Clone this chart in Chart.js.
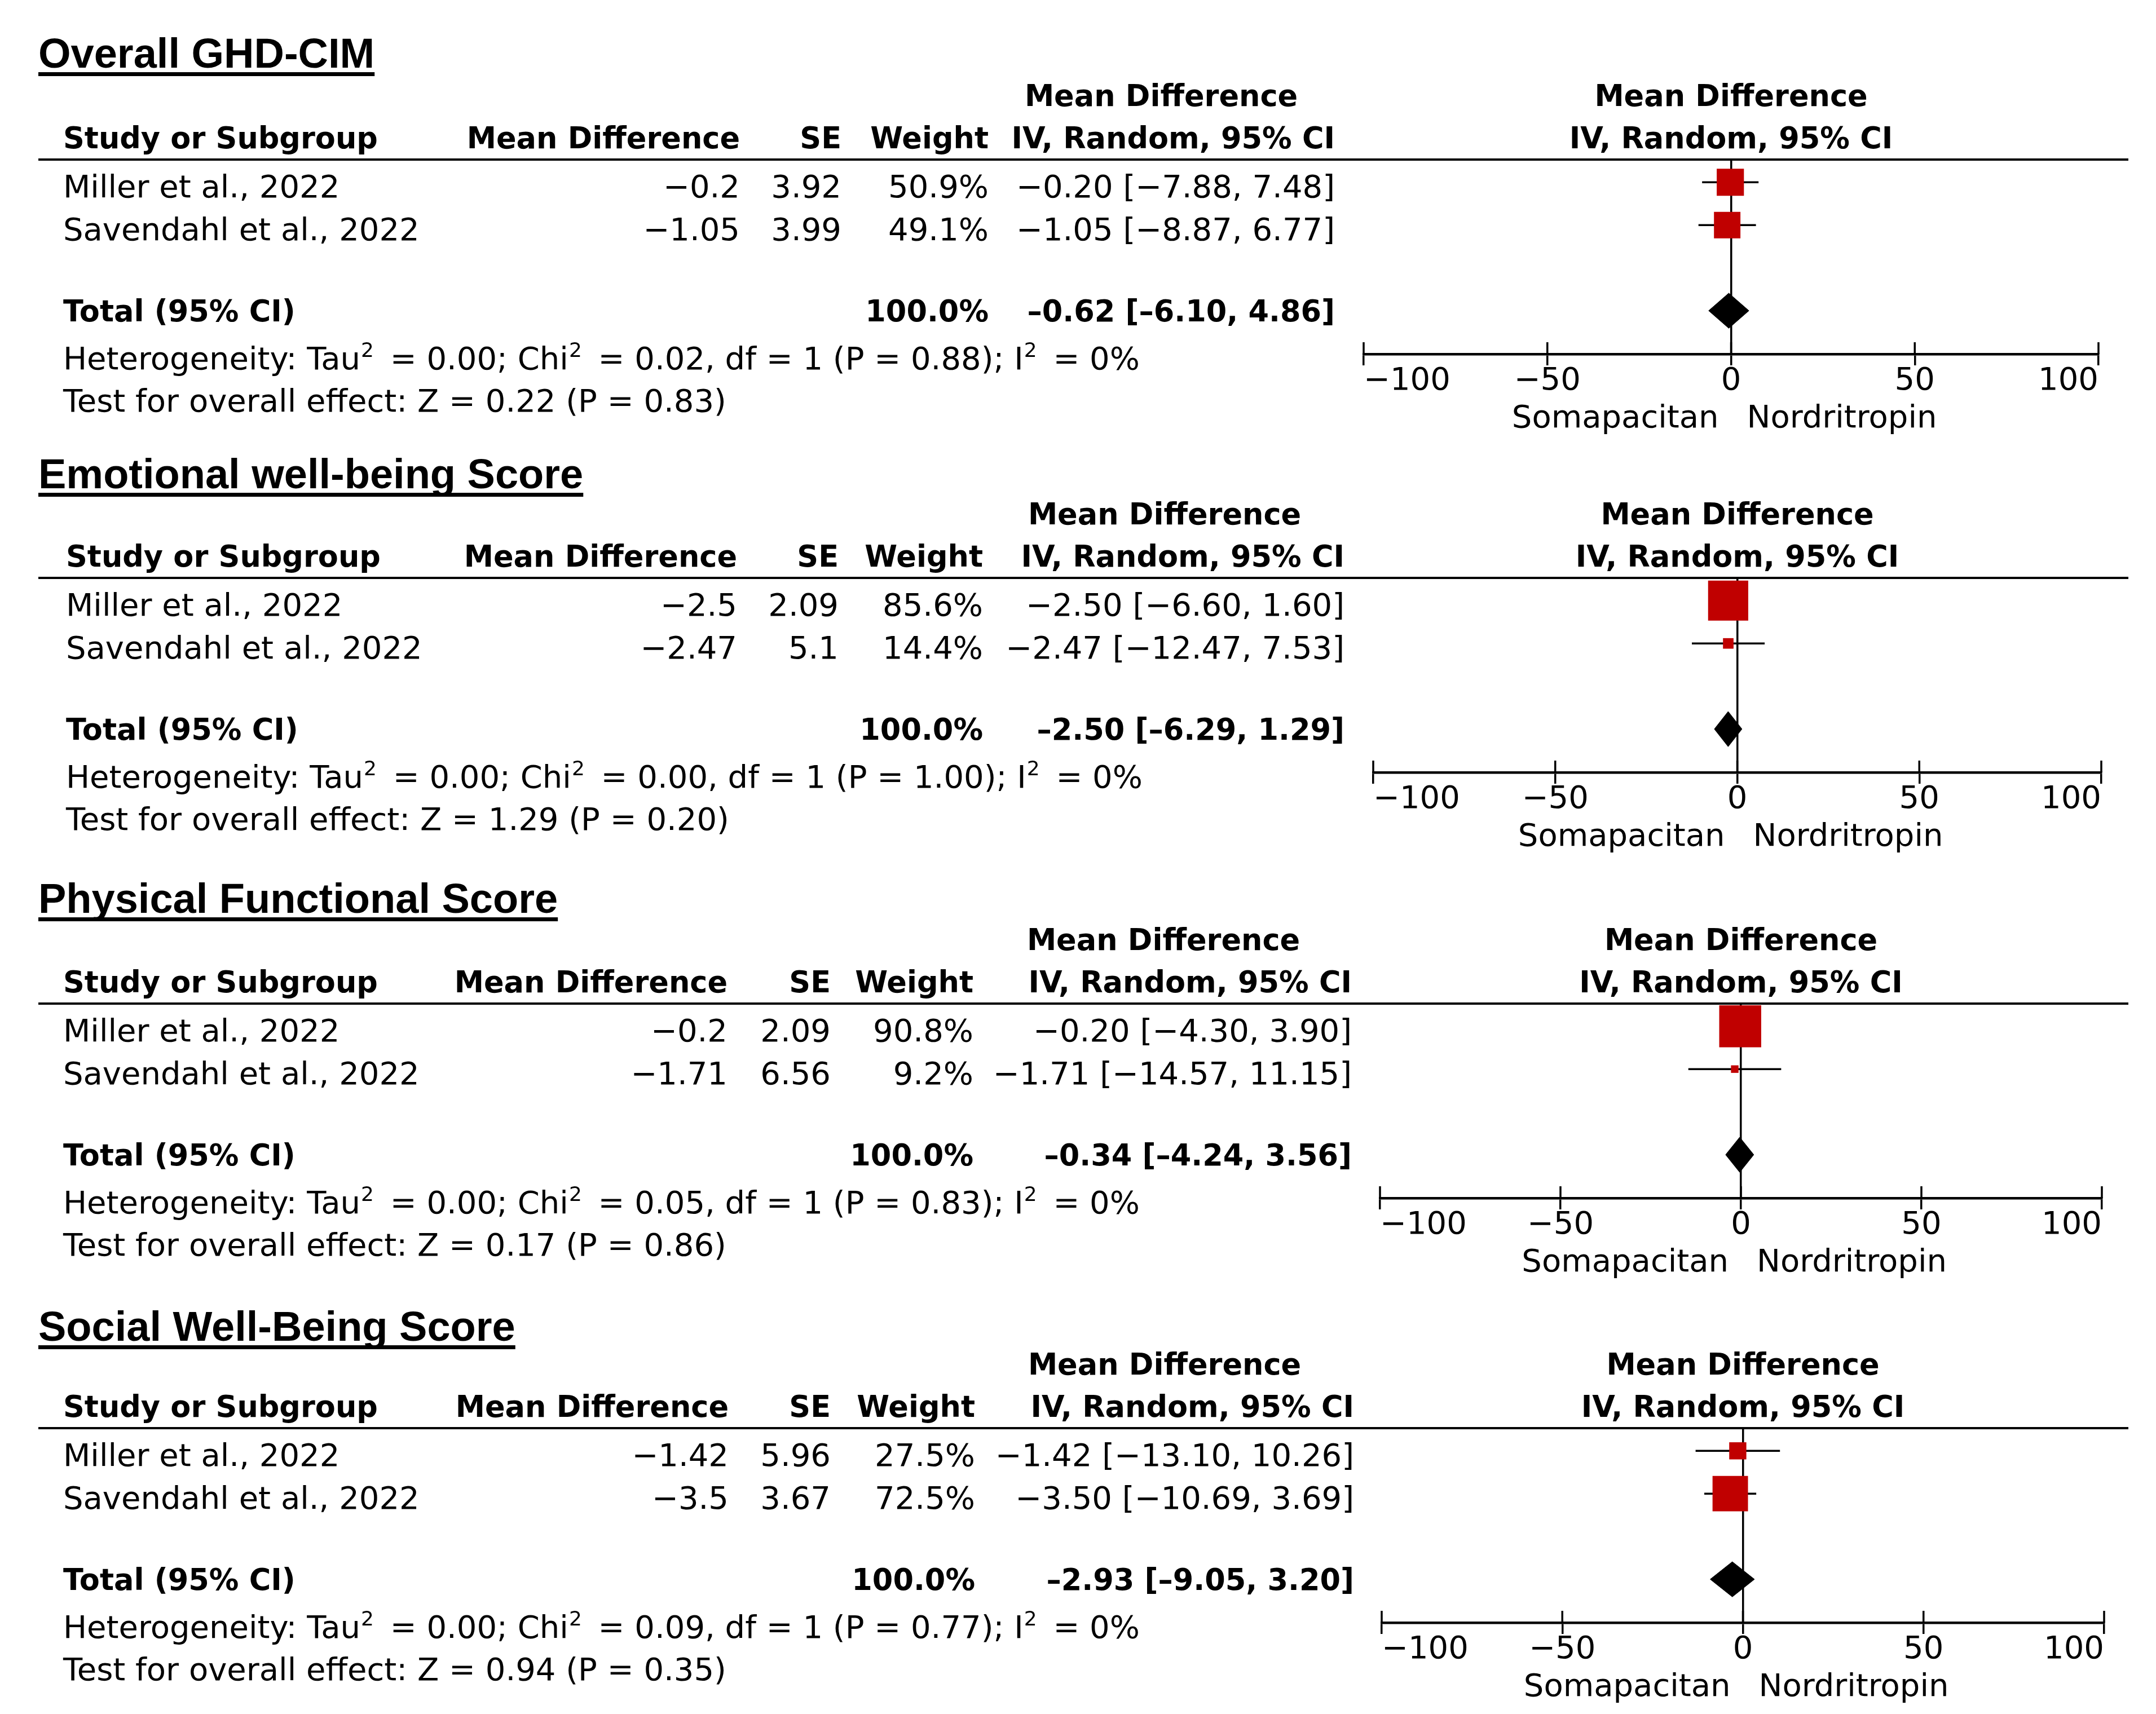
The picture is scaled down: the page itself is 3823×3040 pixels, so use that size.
<!DOCTYPE html>
<html>
<head>
<meta charset="utf-8">
<script src="https://cdn.jsdelivr.net/npm/chart.js@4/dist/chart.umd.min.js"></script>
<style>
  html, body { margin: 0; padding: 0; background: #ffffff; }
  body { width: 3823px; height: 3040px; position: relative; overflow: hidden; }
  .panel { position: absolute; left: 0; width: 3823px; height: 790px; }
  .panel canvas { display: block; }
</style>
</head>
<body>
<div class="panel" id="p0"><canvas id="c0" width="3823" height="790"></canvas></div>
<div class="panel" id="p1"><canvas id="c1" width="3823" height="790"></canvas></div>
<div class="panel" id="p2"><canvas id="c2" width="3823" height="790"></canvas></div>
<div class="panel" id="p3"><canvas id="c3" width="3823" height="790"></canvas></div>
<script>
// ---------------- DATA ----------------
const panelTitles = ["Overall GHD-CIM", "Emotional well-being Score", "Physical Functional Score", "Social Well-Being Score"];
const studies = ["Miller et al., 2022", "Savendahl et al., 2022"];
const meanDiff = [[-0.2, -1.05], [-2.5, -2.47], [-0.2, -1.71], [-1.42, -3.5]];
const seValues = [[3.92, 3.99], [2.09, 5.1], [2.09, 6.56], [5.96, 3.67]];
const weights = [[50.9, 49.1], [85.6, 14.4], [90.8, 9.2], [27.5, 72.5]];
const ciLower = [[-7.88, -8.87], [-6.60, -12.47], [-4.30, -14.57], [-13.10, -10.69]];
const ciUpper = [[7.48, 6.77], [1.60, 7.53], [3.90, 11.15], [10.26, 3.69]];
const totalMD = [-0.62, -2.50, -0.34, -2.93];
const totalLower = [-6.10, -6.29, -4.24, -9.05];
const totalUpper = [4.86, 1.29, 3.56, 3.20];
const heterogeneityText = [
  "Heterogeneity: Tau\u00B2 = 0.00; Chi\u00B2 = 0.02, df = 1 (P = 0.88); I\u00B2 = 0%",
  "Heterogeneity: Tau\u00B2 = 0.00; Chi\u00B2 = 0.00, df = 1 (P = 1.00); I\u00B2 = 0%",
  "Heterogeneity: Tau\u00B2 = 0.00; Chi\u00B2 = 0.05, df = 1 (P = 0.83); I\u00B2 = 0%",
  "Heterogeneity: Tau\u00B2 = 0.00; Chi\u00B2 = 0.09, df = 1 (P = 0.77); I\u00B2 = 0%"
];
const overallEffectText = [
  "Test for overall effect: Z = 0.22 (P = 0.83)",
  "Test for overall effect: Z = 1.29 (P = 0.20)",
  "Test for overall effect: Z = 0.17 (P = 0.86)",
  "Test for overall effect: Z = 0.94 (P = 0.35)"
];
const xTickValues = [-100, -50, 0, 50, 100];
const favoursLeft = "Somapacitan";
const favoursRight = "Nordritropin";
const totalLabel = "Total (95% CI)";
const colHeaders = ["Study or Subgroup", "Mean Difference", "SE", "Weight", "IV, Random, 95% CI"];
const upperHeader = "Mean Difference";

// ---------------- LAYOUT (positions / styles only) ----------------
const W = 3823, H = 790;
const HEADER_Y = 283, AXIS_Y = 628, AXIS_H = 130;
const Y_MIN = -0.53, Y_MAX = 4.013;
const STUDY_ROWS = [0, 1];
const TOTAL_ROW = 3;
const DIAMOND_H = 0.41;
const RED = "#c00000";
const FONT = '"DejaVu Sans", Verdana, sans-serif';
const REG_SIZE = 56;
const REG = REG_SIZE + "px " + FONT;
const SUP = "36px " + FONT;
const BOLD = "bold 52.5px " + FONT;
const layouts = [
  { top: 0,    titleDy: 0, nameX: 112, mdR: 1312, seR: 1492, wR: 1753, ciR: 2367, upC: 2059, xL: 2418, xR: 3721 },
  { top: 742,  titleDy: 4, nameX: 117, mdR: 1307, seR: 1487, wR: 1743, ciR: 2384, upC: 2065, xL: 2435, xR: 3726 },
  { top: 1497, titleDy: 2, nameX: 112, mdR: 1290, seR: 1473, wR: 1726, ciR: 2397, upC: 2063, xL: 2447, xR: 3727 },
  { top: 2250, titleDy: 8, nameX: 112, mdR: 1292, seR: 1473, wR: 1729, ciR: 2401, upC: 2065, xL: 2450, xR: 3731 }
];

const fmtNeg = s => String(s).replace(/-/g, "\u2212");
const fmtNegBold = s => String(s).replace(/-/g, "\u2013");
const ciStr = (m, lo, hi) => m.toFixed(2) + " [" + lo.toFixed(2) + ", " + hi.toFixed(2) + "]";
const squareSide = w => 2.53 * Math.pow(w, 0.75);

// draw text in which "²" is rendered as a raised small "2"
function drawWithSup(ctx, text, x, y) {
  const parts = text.split("\u00B2");
  let cx = x;
  parts.forEach((p, k) => {
    ctx.font = REG;
    ctx.fillText(p, cx, y);
    cx += ctx.measureText(p).width;
    if (k < parts.length - 1) {
      ctx.font = SUP;
      ctx.fillText("2", cx + 1, y - 22);
      cx += ctx.measureText("2").width + 12;
    }
  });
  ctx.font = REG;
}

function makeTextPlugin(i) {
  return {
    id: "forestText" + i,
    afterDraw(chart) {
      const ctx = chart.ctx;
      const L = layouts[i];
      const xs = chart.scales.x, ys = chart.scales.y;
      const zeroX = xs.getPixelForValue(0);
      const area = chart.chartArea;
      ctx.save();
      ctx.fillStyle = "#000";
      ctx.strokeStyle = "#000";
      ctx.textBaseline = "alphabetic";

      // title with underline
      ctx.font = 'bold 74px "Liberation Sans", Arial, sans-serif';
      ctx.textAlign = "left";
      const ty = 120 + L.titleDy;
      ctx.fillText(panelTitles[i], 68, ty);
      const tw = ctx.measureText(panelTitles[i]).width;
      ctx.fillRect(68, ty + 8, tw, 7);

      // headers
      ctx.font = BOLD;
      ctx.textAlign = "center";
      ctx.fillText(upperHeader, L.upC, 188);
      ctx.fillText(upperHeader, zeroX, 188);
      ctx.fillText(colHeaders[4], zeroX, 263);
      ctx.textAlign = "left";
      ctx.fillText(colHeaders[0], L.nameX, 263);
      ctx.textAlign = "right";
      ctx.fillText(colHeaders[1], L.mdR, 263);
      ctx.fillText(colHeaders[2], L.seR, 263);
      ctx.fillText(colHeaders[3], L.wR, 263);
      ctx.fillText(colHeaders[4], L.ciR, 263);

      // header rule
      ctx.fillRect(68, area.top - 2, 3774 - 68, 4);

      // study rows
      ctx.font = REG;
      studies.forEach((name, j) => {
        const y = ys.getPixelForValue(STUDY_ROWS[j]) + 27;
        ctx.textAlign = "left";
        ctx.fillText(name, L.nameX, y);
        ctx.textAlign = "right";
        ctx.fillText(fmtNeg(meanDiff[i][j]), L.mdR, y);
        ctx.fillText(String(seValues[i][j]), L.seR, y);
        ctx.fillText(weights[i][j].toFixed(1) + "%", L.wR, y);
        ctx.fillText(fmtNeg(ciStr(meanDiff[i][j], ciLower[i][j], ciUpper[i][j])), L.ciR, y);
      });

      // total row
      const totalY = ys.getPixelForValue(TOTAL_ROW);
      ctx.font = BOLD;
      ctx.textAlign = "left";
      ctx.fillText(totalLabel, L.nameX, totalY + 19);
      ctx.textAlign = "right";
      const wsum = weights[i].reduce((a, b) => a + b, 0);
      ctx.fillText(wsum.toFixed(1) + "%", L.wR, totalY + 19);
      ctx.fillText(fmtNegBold(ciStr(totalMD[i], totalLower[i], totalUpper[i])), L.ciR, totalY + 19);

      // heterogeneity & test
      ctx.textAlign = "left";
      drawWithSup(ctx, heterogeneityText[i], L.nameX, totalY + 104);
      ctx.font = REG;
      ctx.fillText(overallEffectText[i], L.nameX, totalY + 179);

      // favours labels
      const axisY = area.bottom;
      ctx.textAlign = "right";
      ctx.fillText(favoursLeft, zeroX - 22, axisY + 130);
      ctx.textAlign = "left";
      ctx.fillText(favoursRight, zeroX + 28, axisY + 130);

      // upward half of tick marks
      ctx.lineWidth = 3.5;
      xTickValues.forEach(v => {
        const px = xs.getPixelForValue(v);
        ctx.beginPath();
        ctx.moveTo(px, axisY - 21);
        ctx.lineTo(px, axisY);
        ctx.stroke();
      });
      ctx.restore();
    }
  };
}

function buildPanel(i) {
  const L = layouts[i];
  document.getElementById("p" + i).style.top = L.top + "px";
  const datasets = [];
  // squares (index 0 -> drawn on top)
  datasets.push({
    data: studies.map((_, j) => ({ x: meanDiff[i][j], y: STUDY_ROWS[j] })),
    pointStyle: "rect",
    backgroundColor: RED,
    borderColor: RED,
    borderWidth: 0,
    pointRadius: c => squareSide(weights[i][c.dataIndex]) / Math.SQRT2,
    pointHoverRadius: c => squareSide(weights[i][c.dataIndex]) / Math.SQRT2,
    showLine: false,
    clip: false,
    order: 0
  });
  // diamond for total
  datasets.push({
    data: [
      { x: totalLower[i], y: TOTAL_ROW },
      { x: totalMD[i], y: TOTAL_ROW - DIAMOND_H },
      { x: totalUpper[i], y: TOTAL_ROW },
      { x: totalMD[i], y: TOTAL_ROW + DIAMOND_H },
      { x: totalLower[i], y: TOTAL_ROW }
    ],
    showLine: true,
    fill: "shape",
    backgroundColor: "#000",
    borderColor: "#000",
    borderWidth: 1,
    pointRadius: 0,
    tension: 0,
    clip: false,
    order: 1
  });
  // CI whiskers
  studies.forEach((_, j) => {
    datasets.push({
      data: [{ x: ciLower[i][j], y: STUDY_ROWS[j] }, { x: ciUpper[i][j], y: STUDY_ROWS[j] }],
      showLine: true,
      borderColor: "#000",
      borderWidth: 3.5,
      pointRadius: 0,
      fill: false,
      clip: false,
      order: 2
    });
  });

  new Chart(document.getElementById("c" + i), {
    type: "scatter",
    data: { datasets },
    options: {
      responsive: false,
      maintainAspectRatio: false,
      animation: false,
      events: [],
      layout: { padding: { left: L.xL, right: W - L.xR, top: HEADER_Y, bottom: H - AXIS_Y - AXIS_H } },
      plugins: { legend: { display: false }, tooltip: { enabled: false } },
      scales: {
        x: {
          type: "linear",
          position: "bottom",
          min: -100,
          max: 100,
          afterBuildTicks: s => { s.ticks = xTickValues.map(v => ({ value: v })); },
          afterFit: s => { s.height = AXIS_H; },
          grid: {
            drawOnChartArea: true,
            color: c => (c.tick && c.tick.value === 0) ? "#000" : "rgba(0,0,0,0)",
            lineWidth: 3.5,
            tickColor: "#000",
            tickWidth: 3.5,
            tickLength: 20
          },
          border: { display: true, color: "#000", width: 4.5 },
          ticks: {
            align: "inner",
            padding: 0,
            color: "#000",
            autoSkip: false,
            maxRotation: 0,
            font: { family: FONT, size: REG_SIZE, lineHeight: 1 },
            callback: v => fmtNeg(v)
          }
        },
        y: { type: "linear", display: false, min: Y_MIN, max: Y_MAX, reverse: true }
      }
    },
    plugins: [makeTextPlugin(i)]
  });
}

for (let i = 0; i < 4; i++) buildPanel(i);
</script>
</body>
</html>
